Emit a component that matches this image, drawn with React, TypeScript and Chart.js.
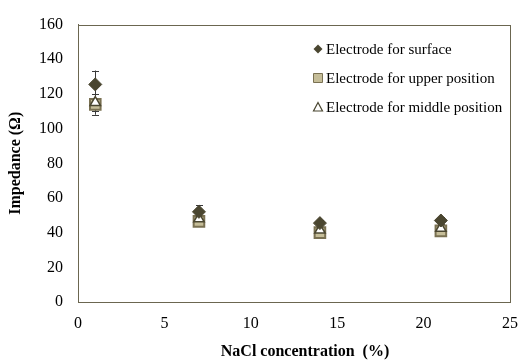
import React, { useEffect, useRef } from "react";
import { Chart, registerables } from "chart.js";

Chart.register(...registerables);

const concentrations = [1, 7, 14, 21];
const surfaceValues = [125.5, 52, 45.5, 47];
const surfaceErrors = [8, 4, 2, 2];
const upperValues = [114, 46.5, 40, 41];
const upperErrors = [6, 2, 2, 2];
const middleValues = [115, 48, 41.5, 42.5];
const middleErrors = [5, 2, 1.5, 1.5];
const seriesNames = [
  "Electrode for surface",
  "Electrode for upper position",
  "Electrode for middle position",
];
const xTicks = [0, 5, 10, 15, 20, 25];
const yTicks = [0, 20, 40, 60, 80, 100, 120, 140, 160];
const xTitle = "NaCl concentration  (%)";
const yTitle = "Impedance (Ω)";

const SERIF = "'Liberation Serif', 'Times New Roman', serif";
const DARK = "#4a4630";
const SQUARE_FILL = "#c5bd98";
const SQUARE_EDGE = "#7a7152";

const errorBarPlugin = {
  id: "errorBars",
  beforeDatasetsDraw(chart: any) {
    const ctx = chart.ctx;
    const xs = chart.scales.x;
    const ys = chart.scales.y;
    ctx.save();
    ctx.strokeStyle = "#3a3a3a";
    ctx.lineWidth = 1;
    chart.data.datasets.forEach((ds: any) => {
      const errs: number[] = ds.errors || [];
      ds.data.forEach((p: any, i: number) => {
        const e = errs[i] || 0;
        const px = Math.round(xs.getPixelForValue(p.x)) + 0.5;
        const top = ys.getPixelForValue(p.y + e);
        const bot = ys.getPixelForValue(p.y - e);
        ctx.beginPath();
        ctx.moveTo(px, top);
        ctx.lineTo(px, bot);
        ctx.moveTo(px - 3.5, Math.round(top) + 0.5);
        ctx.lineTo(px + 3.5, Math.round(top) + 0.5);
        ctx.moveTo(px - 3.5, Math.round(bot) + 0.5);
        ctx.lineTo(px + 3.5, Math.round(bot) + 0.5);
        ctx.stroke();
      });
    });
    ctx.restore();
  },
};

const frameAndLegendPlugin = {
  id: "frameLegend",
  afterDraw(chart: any) {
    const ctx = chart.ctx;
    const a = chart.chartArea;
    ctx.save();
    ctx.strokeStyle = "#6b6650";
    ctx.lineWidth = 1;
    ctx.strokeRect(Math.round(a.left) + 0.5, Math.round(a.top) + 0.5, Math.round(a.right - a.left), Math.round(a.bottom - a.top));

    // x-axis title (slightly right of plot centre, as in the source figure)
    ctx.font = `bold 16px ${SERIF}`;
    ctx.fillStyle = "#000";
    ctx.textAlign = "center";
    ctx.textBaseline = "middle";
    ctx.fillText(xTitle, (a.left + a.right) / 2 + 11, 352);

    // legend
    const lx = 318;
    const ly = [49, 78, 107];
    ctx.font = `15px ${SERIF}`;
    ctx.textAlign = "left";
    ctx.textBaseline = "middle";
    seriesNames.forEach((name, i) => {
      const y = ly[i];
      ctx.beginPath();
      if (i === 0) {
        ctx.fillStyle = DARK;
        ctx.moveTo(lx, y - 4.5);
        ctx.lineTo(lx + 4.5, y);
        ctx.lineTo(lx, y + 4.5);
        ctx.lineTo(lx - 4.5, y);
        ctx.closePath();
        ctx.fill();
      } else if (i === 1) {
        ctx.fillStyle = SQUARE_FILL;
        ctx.strokeStyle = SQUARE_EDGE;
        ctx.lineWidth = 1;
        ctx.rect(lx - 4.5, y - 4.5, 9, 9);
        ctx.fill();
        ctx.stroke();
      } else {
        ctx.fillStyle = "#fff";
        ctx.strokeStyle = DARK;
        ctx.lineWidth = 1.2;
        ctx.moveTo(lx, y - 4.5);
        ctx.lineTo(lx + 4.5, y + 4);
        ctx.lineTo(lx - 4.5, y + 4);
        ctx.closePath();
        ctx.fill();
        ctx.stroke();
      }
      ctx.fillStyle = "#000";
      ctx.fillText(name, lx + 8, y + 1);
    });
    ctx.restore();
  },
};

export default function App() {
  const canvasRef = useRef<HTMLCanvasElement | null>(null);

  useEffect(() => {
    if (!canvasRef.current) return;
    const toPts = (vals: number[]) => concentrations.map((c, i) => ({ x: c, y: vals[i] }));
    const chart = new Chart(canvasRef.current, {
      type: "scatter",
      data: {
        datasets: [
          {
            label: seriesNames[0],
            data: toPts(surfaceValues),
            errors: surfaceErrors,
            pointStyle: "rectRot",
            pointRadius: 6.5,
            backgroundColor: DARK,
            borderColor: DARK,
            borderWidth: 1,
            order: 0,
          } as any,
          {
            label: seriesNames[1],
            data: toPts(upperValues),
            errors: upperErrors,
            pointStyle: "rect",
            pointRadius: 7.5,
            backgroundColor: SQUARE_FILL,
            borderColor: SQUARE_EDGE,
            borderWidth: 2,
            order: 2,
          } as any,
          {
            label: seriesNames[2],
            data: toPts(middleValues),
            errors: middleErrors,
            pointStyle: "triangle",
            pointRadius: 6,
            backgroundColor: "#ffffff",
            borderColor: DARK,
            borderWidth: 1.5,
            order: 1,
          } as any,
        ],
      },
      options: {
        animation: false,
        responsive: true,
        maintainAspectRatio: false,
        layout: { padding: { left: 0, top: 20, right: 10, bottom: 0 } },
        plugins: {
          legend: { display: false },
          tooltip: { enabled: false },
        },
        scales: {
          x: {
            type: "linear",
            min: 0,
            max: 25,
            afterBuildTicks: (s: any) => {
              s.ticks = xTicks.map((v) => ({ value: v }));
            },
            afterFit: (s: any) => {
              s.height = 60;
            },
            grid: { display: false, drawTicks: false },
            border: { display: true, color: "#6b6650" },
            ticks: {
              padding: 12,
              color: "#000",
              font: { family: SERIF, size: 16 },
            },
            title: { display: false },
          },
          y: {
            type: "linear",
            min: 0,
            max: 160,
            afterBuildTicks: (s: any) => {
              s.ticks = yTicks.map((v) => ({ value: v }));
            },
            afterFit: (s: any) => {
              s.width = 78;
            },
            grid: { display: false, drawTicks: false },
            border: { display: true, color: "#6b6650" },
            ticks: {
              padding: 15,
              color: "#000",
              font: { family: SERIF, size: 16 },
            },
            title: {
              display: true,
              text: yTitle,
              color: "#000",
              font: { family: SERIF, size: 16, weight: "bold" },
              padding: { top: 6, bottom: 0 },
            },
          },
        },
      },
      plugins: [errorBarPlugin, frameAndLegendPlugin],
    } as any);
    return () => chart.destroy();
  }, []);

  return (
    <div style={{ position: "absolute", left: 0, top: 0, width: 530, height: 362, background: "#fff" }}>
      <canvas ref={canvasRef} />
    </div>
  );
}
